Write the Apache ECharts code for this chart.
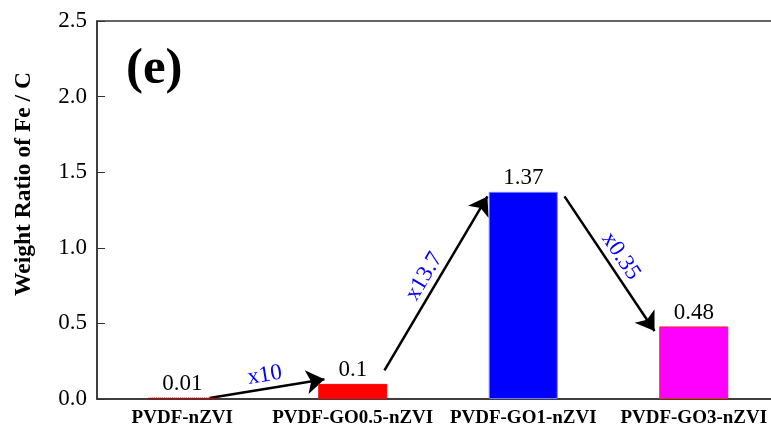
<!DOCTYPE html>
<html><head><meta charset="utf-8">
<script src="https://cdn.jsdelivr.net/npm/echarts@6/dist/echarts.min.js"></script>
<style>html,body{margin:0;padding:0;background:#fff}#c{width:771px;height:432px}</style>
</head><body><div id="c"></div>
<script>
var categories = ['PVDF-nZVI', 'PVDF-GO0.5-nZVI', 'PVDF-GO1-nZVI', 'PVDF-GO3-nZVI'];
var values = [0.01, 0.1, 1.37, 0.48];
var barColors = ['#500000', '#ff0000', '#0000ff', '#ff00ff'];
var barBorders = ['#cc0000', '#ff0000', '#6a7cff', '#ff2020'];
var yTicks = [0, 0.5, 1.0, 1.5, 2.0, 2.5];
// arrow annotations (category index, value)
var arrowStartX = [0.16, 1.186, 2.242];
var arrowStartY = [0.007, 0.19, 1.34];
var arrowEndX = [0.834, 1.79, 2.77];
var arrowEndY = [0.13, 1.34, 0.45];
var arrowLabels = ['x10', 'x13.7', 'x0.35'];
var panelLabel = '(e)';
var yName = 'Weight Ratio of Fe / C';

var serif = '"Liberation Serif", "Times New Roman", serif';
var chart = echarts.init(document.getElementById('c'));
var arrowData = arrowLabels.map(function (t, i) {
  return { coords: [[arrowStartX[i], arrowStartY[i]], [arrowEndX[i], arrowEndY[i]]], name: t };
});
chart.setOption({
  animation: false,
  grid: { left: 97, width: 682, top: 21, bottom: 33, show: true, borderColor: '#333', borderWidth: 1.5,
    containLabel: false, outerBoundsMode: 'none' },
  xAxis: [{
    type: 'category', data: categories,
    axisLine: { lineStyle: { color: '#333', width: 1.5 } },
    axisTick: { inside: true, alignWithLabel: true, length: 5, lineStyle: { color: '#333' } },
    axisLabel: { fontFamily: serif, fontWeight: 'bold', fontSize: 19, color: '#000', margin: 10, interval: 0 }
  }, {
    type: 'value', min: -0.5, max: 3.5, show: false, gridIndex: 0
  }],
  yAxis: {
    type: 'value', min: yTicks[0], max: yTicks[yTicks.length - 1], interval: 0.5,
    axisLine: { show: true, onZero: false, lineStyle: { color: '#333', width: 1.5 } },
    axisTick: { show: true, inside: true, length: 8, lineStyle: { color: '#333' } },
    splitLine: { show: false },
    axisLabel: { fontFamily: serif, fontSize: 23, color: '#000', margin: 10,
      formatter: function (v) { return v.toFixed(1); } }
  },
  series: [{
    type: 'bar', xAxisIndex: 0, barWidth: 69,
    data: values.map(function (v, i) {
      return { value: v, itemStyle: { color: barColors[i], borderColor: barBorders[i], borderWidth: 1, borderType: i === 0 ? 'dotted' : 'solid' } };
    }),
    label: { show: true, position: 'top', distance: 2, fontFamily: serif, fontSize: 23, color: '#000',
      formatter: function (p) { return String(p.value); } }
  }, {
    type: 'lines', coordinateSystem: 'cartesian2d', xAxisIndex: 1, yAxisIndex: 0,
    symbol: ['none', 'arrow'], symbolSize: [12, 18],
    lineStyle: { color: '#000', width: 2.5, opacity: 1, curveness: 0 },
    label: { show: true, position: 'middle', distance: 2, fontFamily: serif, fontSize: 23, color: '#0000ff',
      formatter: function (p) { return p.name; } },
    data: arrowData
  }],
  graphic: [{
    type: 'text', left: 126, top: 44,
    style: { text: panelLabel, font: 'bold 51px ' + serif, fill: '#000' }
  }, {
    type: 'text', x: 24, y: 184, rotation: Math.PI / 2,
    style: { text: yName, font: 'bold 23.5px ' + serif, fill: '#000', align: 'center', verticalAlign: 'middle' }
  }]
});
</script></body></html>
